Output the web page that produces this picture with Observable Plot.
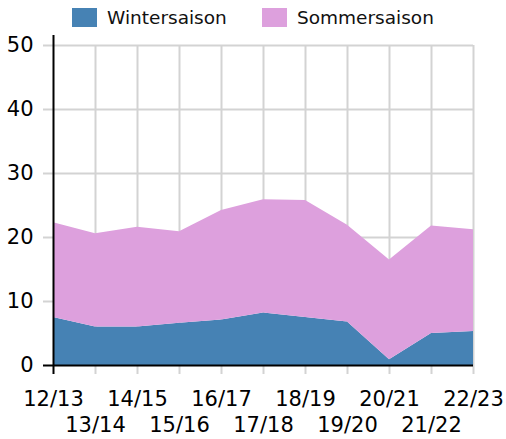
<!DOCTYPE html>
<html>
<head>
<meta charset="utf-8">
<script src="https://cdn.jsdelivr.net/npm/d3@7"></script>
<script src="https://cdn.jsdelivr.net/npm/@observablehq/plot@0.6"></script>
<style>
  html, body { margin: 0; padding: 0; background: #fff; }
  #wrap { width: 506px; position: relative; font-family: "DejaVu Sans", sans-serif; }
  #legend { position: relative; height: 33px; width: 506px; }
  .sw { position: absolute; top: 8px; width: 25px; height: 19px; }
  .lt { position: absolute; top: 6px; font-size: 18.5px; line-height: 24px; color: #111; }
  svg { display: block; }
</style>
</head>
<body>
<div id="wrap">
  <div id="legend"></div>
  <div id="chart"></div>
</div>
<script>
const seasons = ["12/13","13/14","14/15","15/16","16/17","17/18","18/19","19/20","20/21","21/22","22/23"];
const seriesNames = ["Wintersaison", "Sommersaison"];
const seriesColors = ["#4682b4", "#dda0dd"];
const winter = [7.5, 6.0, 6.0, 6.6, 7.1, 8.2, 7.5, 6.8, 0.9, 5.0, 5.3];
const summer = [14.8, 14.6, 15.6, 14.3, 17.1, 17.7, 18.3, 15.1, 15.6, 16.8, 15.9];
const yTicks = [0, 10, 20, 30, 40, 50];

const data = [];
seasons.forEach((s, i) => data.push({i, season: s, serie: seriesNames[0], value: winter[i]}));
seasons.forEach((s, i) => data.push({i, season: s, serie: seriesNames[1], value: summer[i]}));

const idx = seasons.map((_, i) => i);
const evenIdx = idx.filter(i => i % 2 === 0);
const oddIdx = idx.filter(i => i % 2 === 1);

// legend
const legend = document.getElementById("legend");
const legPos = [[72, 107], [262, 297]];
seriesNames.forEach((n, k) => {
  const sw = document.createElement("div");
  sw.className = "sw"; sw.style.left = legPos[k][0] + "px"; sw.style.background = seriesColors[k];
  const t = document.createElement("div");
  t.className = "lt"; t.style.left = legPos[k][1] + "px"; t.textContent = n;
  legend.append(sw, t);
});

const grid = "#d3d3d3";
const chart = Plot.plot({
  width: 506,
  height: 406,
  marginLeft: 53,
  marginRight: 33,
  marginTop: 12,
  marginBottom: 74,
  style: { fontFamily: "DejaVu Sans, sans-serif", background: "#fff" },
  x: { domain: [0, seasons.length - 1], axis: null },
  y: { domain: [0, 50], axis: null },
  color: { domain: seriesNames, range: seriesColors },
  marks: [
    Plot.ruleY(yTicks.slice(1), { stroke: grid, strokeWidth: 2, insetLeft: -10 }),
    Plot.ruleX(idx.slice(1), { y1: 50, y2: 0, stroke: grid, strokeWidth: 2, insetBottom: -9 }),
    Plot.areaY(data, { x: "i", y: "value", fill: "serie", curve: "linear" }),
    Plot.ruleX([0], { y1: 50, y2: 0, stroke: "black", strokeWidth: 2, insetTop: -10, insetBottom: -9 }),
    Plot.ruleY([0], { x1: 0, x2: seasons.length - 1, stroke: "black", strokeWidth: 2, insetLeft: -10 }),
    Plot.text(yTicks, { x: 0, y: d => d, text: d => String(d), textAnchor: "end", dx: -20, fontSize: 21, fill: "black" }),
    Plot.text(evenIdx, { x: d => d, y: 0, text: d => seasons[d], dy: 34, fontSize: 21, fill: "black" }),
    Plot.text(oddIdx, { x: d => d, y: 0, text: d => seasons[d], dy: 60, fontSize: 21, fill: "black" })
  ]
});
document.getElementById("chart").append(chart);
</script>
</body>
</html>
